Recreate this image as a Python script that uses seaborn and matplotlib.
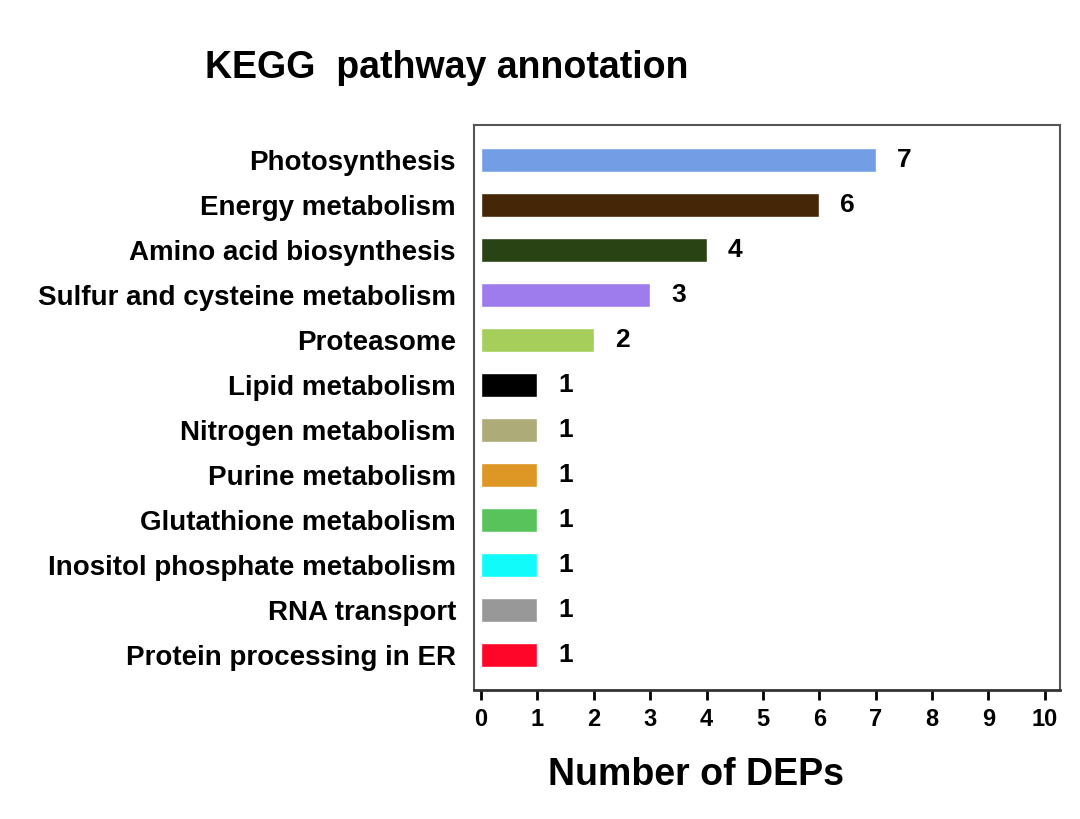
import matplotlib
matplotlib.use("Agg")
import matplotlib.pyplot as plt
import seaborn as sns
import pandas as pd

# KEGG pathway annotation of DEPs
pathways = ["Photosynthesis", "Energy metabolism", "Amino acid biosynthesis",
            "Sulfur and cysteine metabolism", "Proteasome", "Lipid metabolism",
            "Nitrogen metabolism", "Purine metabolism", "Glutathione metabolism",
            "Inositol phosphate metabolism", "RNA transport", "Protein processing in ER"]
counts = [7, 6, 4, 3, 2, 1, 1, 1, 1, 1, 1, 1]
bar_colors = ["#739ee6", "#452707", "#2a4314", "#9f7ced", "#a5ce5a", "#000000",
              "#adab78", "#de9624", "#58c35b", "#11fbfb", "#989898", "#fd0629"]
x_ticks = list(range(0, 11))

df = pd.DataFrame({"pathway": pathways, "count": counts})

sns.set_theme(style="white")
plt.rcParams["font.family"] = ["Liberation Sans", "DejaVu Sans"]
plt.rcParams["font.weight"] = "bold"
plt.rcParams["text.color"] = "black"
plt.rcParams["xtick.color"] = "black"
plt.rcParams["ytick.color"] = "black"
plt.rcParams["axes.labelcolor"] = "black"

fig = plt.figure(figsize=(10.8, 8.19), dpi=100)
ax = fig.add_axes([474 / 1080, 1 - 690 / 819, 586 / 1080, 565 / 819])

sns.barplot(data=df, x="count", y="pathway", hue="pathway", palette=bar_colors,
            legend=False, width=0.55, orient="h", ax=ax, saturation=1)

for i, v in enumerate(counts):
    ax.text(v + 0.5, i, str(v), va="center", ha="center",
            fontsize=19, fontweight="bold", color="black")

ax.set_xlim(-0.124, 10.27)
ax.set_ylim(11.78, -0.78)
ax.set_xticks(x_ticks)
ax.set_xticklabels([str(t) for t in x_ticks], fontsize=17, fontweight="bold")
ax.tick_params(axis="x", bottom=True, direction="out", length=7, width=2,
               color="black", pad=6)
ax.tick_params(axis="y", left=False, labelsize=20, pad=7)
for lbl in ax.get_yticklabels():
    lbl.set_fontweight("bold")
ax.set_ylabel("")
ax.set_xlabel("")

for side in ["top", "right", "left"]:
    ax.spines[side].set_color("#555555")
    ax.spines[side].set_linewidth(1.5)
ax.spines["bottom"].set_color("#333333")
ax.spines["bottom"].set_linewidth(2)

fig.text(205 / 1080, 1 - 68 / 819, "KEGG  pathway annotation", fontsize=27,
         fontweight="bold", ha="left", va="center")
fig.text(696 / 1080, 1 - 775 / 819, "Number of DEPs", fontsize=27,
         fontweight="bold", ha="center", va="center")

fig.savefig("out.png", dpi=100, facecolor="white")
